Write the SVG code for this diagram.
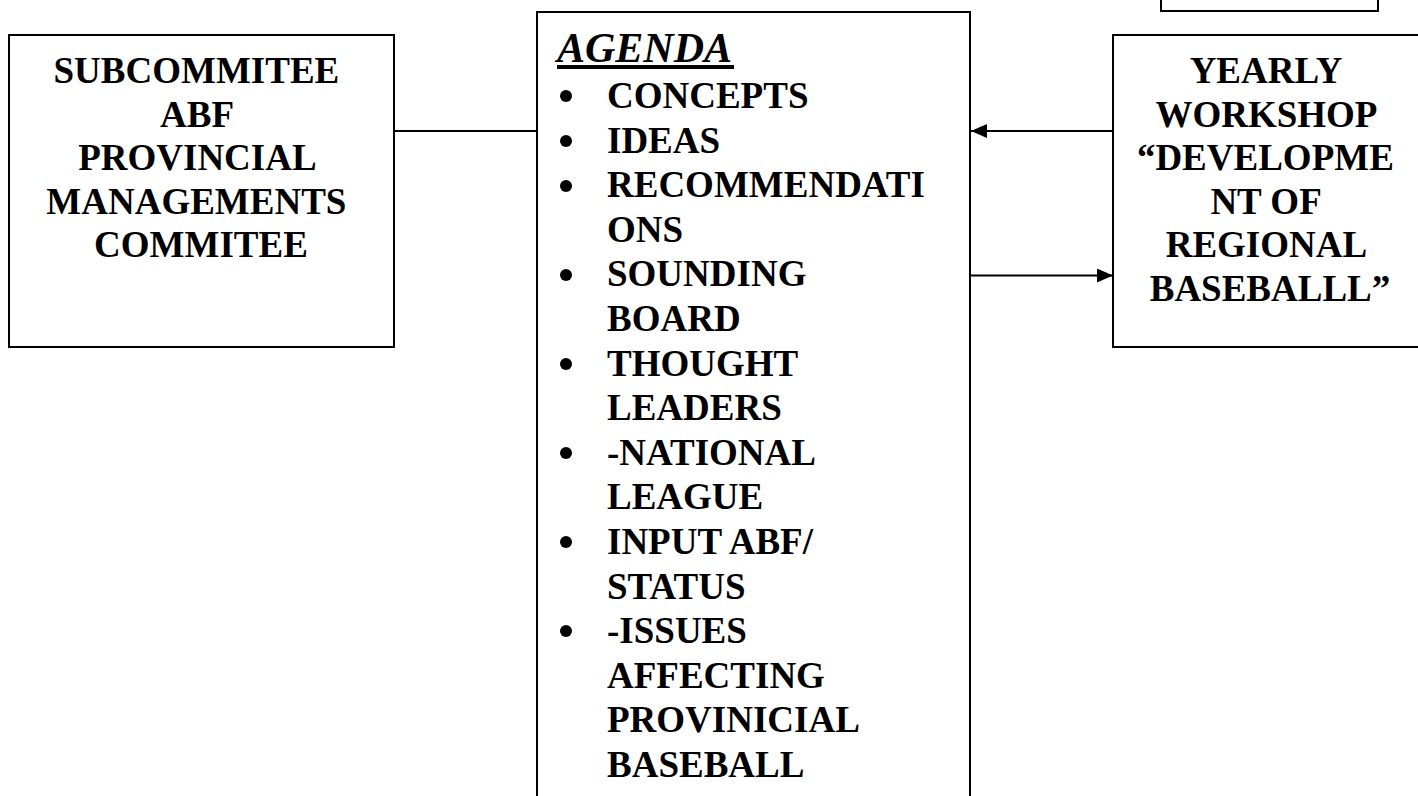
<svg xmlns="http://www.w3.org/2000/svg" width="1418" height="796" viewBox="0 0 1418 796">
<style>
.box{fill:#fff;stroke:#000;stroke-width:2}
.t{font-family:"Liberation Serif","Times New Roman",serif;font-weight:bold;font-size:37px;fill:#000}
.c{text-anchor:middle}
.ln{stroke:#000;stroke-width:2;fill:none}
</style>
<defs>
<marker id="ah" viewBox="0 0 16 14" refX="16" refY="7" markerWidth="16" markerHeight="14" markerUnits="userSpaceOnUse" orient="auto">
<path d="M0,0 L16,7 L0,14 Z" fill="#000"/>
</marker>
</defs>
<rect width="1418" height="796" fill="#fff"/>
<g id="topbox"><rect class="box" x="1161" y="-50" width="217" height="61"/></g>
<g id="subcommittee">
<rect class="box" x="9" y="35" width="385" height="312"/>
<text class="t c" x="201">
<tspan x="201" y="83">SUBCOMMITEE</tspan>
<tspan x="201" y="126.5">ABF</tspan>
<tspan x="201" y="170">PROVINCIAL</tspan>
<tspan x="201" y="213.5">MANAGEMENTS</tspan>
<tspan x="201" y="257">COMMITEE</tspan>
</text>
</g>
<g id="agenda">
<rect class="box" x="537" y="12" width="433" height="820"/>
<text class="t" x="557" y="62" font-style="italic" font-size="42" style="font-size:42px">AGENDA</text>
<rect x="557" y="65" width="177" height="4" fill="#000"/>
<g fill="#000">
<circle cx="566" cy="96" r="6"/>
<circle cx="566" cy="141" r="6"/>
<circle cx="566" cy="186" r="6"/>
<circle cx="566" cy="275" r="6"/>
<circle cx="566" cy="364" r="6"/>
<circle cx="566" cy="453" r="6"/>
<circle cx="566" cy="542" r="6"/>
<circle cx="566" cy="631" r="6"/>
</g>
<text class="t">
<tspan x="607" y="108">CONCEPTS</tspan>
<tspan x="607" y="152.6">IDEAS</tspan>
<tspan x="607" y="197.2">RECOMMENDATI</tspan>
<tspan x="607" y="241.8">ONS</tspan>
<tspan x="607" y="286.4">SOUNDING</tspan>
<tspan x="607" y="331">BOARD</tspan>
<tspan x="607" y="375.6">THOUGHT</tspan>
<tspan x="607" y="420.2">LEADERS</tspan>
<tspan x="607" y="464.8">-NATIONAL</tspan>
<tspan x="607" y="509.4">LEAGUE</tspan>
<tspan x="607" y="554">INPUT ABF/</tspan>
<tspan x="607" y="598.6">STATUS</tspan>
<tspan x="607" y="643.2">-ISSUES</tspan>
<tspan x="607" y="687.8">AFFECTING</tspan>
<tspan x="607" y="732.4">PROVINICIAL</tspan>
<tspan x="607" y="777">BASEBALL</tspan>
</text>
</g>
<g id="workshop">
<rect class="box" x="1113" y="35" width="320" height="312"/>
<text class="t c">
<tspan x="1270" y="83">YEARLY</tspan>
<tspan x="1270" y="126.5">WORKSHOP</tspan>
<tspan x="1270" y="170">“DEVELOPME</tspan>
<tspan x="1270" y="213.5">NT OF</tspan>
<tspan x="1270" y="257">REGIONAL</tspan>
<tspan x="1270" y="300.5">BASEBALLL”</tspan>
</text>
</g>
<g id="connectors">
<line class="ln" x1="394" y1="131" x2="537" y2="131"/>
<line class="ln" x1="1113" y1="131" x2="971" y2="131" marker-end="url(#ah)"/>
<line class="ln" x1="971" y1="275.5" x2="1113" y2="275.5" marker-end="url(#ah)"/>
</g>
</svg>
